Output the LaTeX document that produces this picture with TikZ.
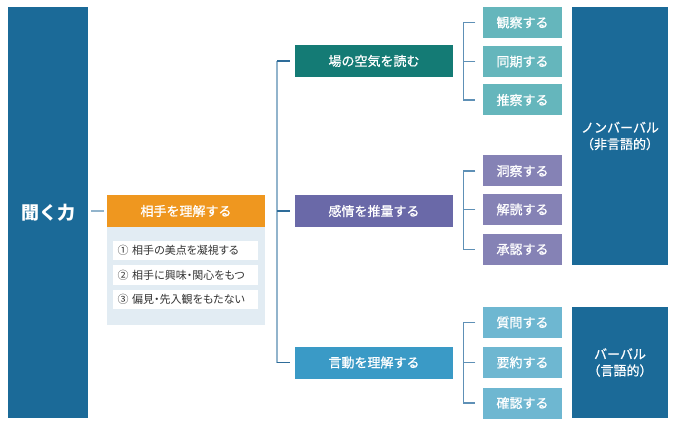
\documentclass[tikz,border=0pt]{standalone}
\usepackage{fontspec}
\setmainfont{Noto Sans CJK JP}
\newfontfamily\boxfont[FakeBold=0.8]{Noto Sans CJK JP}
\newfontfamily\itemfont[RawFeature=+palt]{Noto Sans CJK JP}
\usepackage{tikz}
\definecolor{kikublue}{HTML}{1B6A98}
\definecolor{aiteorange}{HTML}{EF971F}
\definecolor{panelgray}{HTML}{E2ECF3}
\definecolor{kuukiteal}{HTML}{147B75}
\definecolor{kanjoupurple}{HTML}{6A69A8}
\definecolor{gendoublue}{HTML}{3A9AC6}
\definecolor{leafteal}{HTML}{65B6BC}
\definecolor{leafpurple}{HTML}{8582B5}
\definecolor{leafblue}{HTML}{6EB7D1}
\definecolor{spinelight}{HTML}{92B4CC}
\definecolor{tickdark}{HTML}{2E6C99}
\definecolor{spineright}{HTML}{5E90B6}
\tikzset{
	labelfont/.style={font=\boxfont\fontsize{13}{16.5}\selectfont},
	kikubox/.style={fill=kikublue, text=white, inner sep=0pt, minimum width=80pt, minimum height=411pt, font=\bfseries\fontsize{18}{20}\selectfont},
	headbox/.style={text=white, inner sep=0pt, minimum width=158pt, minimum height=32pt, labelfont},
	leafbox/.style={text=white, inner sep=0pt, minimum width=79pt, minimum height=31pt, labelfont},
	bigbox/.style={fill=kikublue, text=white, inner sep=0pt, minimum width=96pt, align=center, labelfont},
	itembox/.style={fill=white, text=black!80, inner xsep=4.5pt, inner ysep=0pt, text width=136pt, minimum height=19.5pt, align=left, font=\itemfont\fontsize{11}{13}\selectfont},
	spine/.style={line width=1.5pt, spinelight},
	tick/.style={line width=1.5pt, tickdark},
	rbrack/.style={line width=1.5pt, spineright},
}

\begin{document}
\begin{tikzpicture}[x=1pt, y=-1pt]
		%%%%% START %%%%%
		\useasboundingbox (0,0) rectangle (677,430);
		
		\node[kikubox] (kiku) at (48,212.5) {聞く力};
		
		\node[fill=panelgray, minimum width=158pt, minimum height=98pt, inner sep=0pt] (aitepanel) at (186,276) {};
		\node[headbox, fill=aiteorange] (aite) at (186,211) {相手を理解する};
		\node[itembox] (item1) at (185.5,250.5) {\mbox{① 相手の美点を凝視する}};
		\node[itembox] (item2) at (185.5,275) {\mbox{② 相手に興味・関心をもつ}};
		\node[itembox] (item3) at (185.5,299.5) {\mbox{③ 偏見・先入観をもたない}};
		
		\node[headbox, fill=kuukiteal] (kuuki) at (374,61) {場の空気を読む};
		\node[headbox, fill=kanjoupurple] (kanjou) at (374,211) {感情を推量する};
		\node[headbox, fill=gendoublue] (gendou) at (374,362.5) {言動を理解する};
		
		\node[leafbox, fill=leafteal] (kansatsu) at (522.5,22.5) {観察する};
		\node[leafbox, fill=leafteal] (douki) at (522.5,61.5) {同期する};
		\node[leafbox, fill=leafteal] (suisatsu) at (522.5,100) {推察する};
		
		\node[leafbox, fill=leafpurple] (dousatsu) at (522.5,171) {洞察する};
		\node[leafbox, fill=leafpurple] (kaidoku) at (522.5,209.5) {解読する};
		\node[leafbox, fill=leafpurple] (shounin) at (522.5,249.5) {承認する};
		
		\node[leafbox, fill=leafblue] (shitsumon) at (522.5,322.5) {質問する};
		\node[leafbox, fill=leafblue] (youyaku) at (522.5,362.5) {要約する};
		\node[leafbox, fill=leafblue] (kakunin) at (522.5,403) {確認する};
		
		\node[bigbox, minimum height=258pt] (nonverbal) at (620,136) {ノンバーバル\\（非言語的）};
		\node[bigbox, minimum height=111pt] (verbal) at (620,362.5) {バーバル\\（言語的）};
		
		% connectors
		\coordinate (spineL) at (277,211);
		\coordinate (spineR) at (463.5,211);
		
		\draw[spine] ([xshift=3pt]kiku.east |- aite.west) -- ([xshift=-3pt]aite.west);
		
		\draw[spine] (kuuki.west -| spineL) -- (gendou.west -| spineL);
		\draw[tick] ([xshift=-5pt]kuuki.west) -- (kuuki.west -| spineL);
		\draw[tick] ([xshift=-5pt]kanjou.west) -- (kanjou.west -| spineL);
		\draw[tick] ([xshift=-5pt]gendou.west) -- (gendou.west -| spineL);
		
		\draw[rbrack] ([xshift=-7.5pt]kansatsu.west) -| (spineR |- suisatsu.west) -- ([xshift=-7.5pt]suisatsu.west);
		\draw[rbrack] ([xshift=-7.5pt]douki.west) -- (douki.west -| spineR);
		
		\draw[rbrack] ([xshift=-7.5pt]dousatsu.west) -| (spineR |- shounin.west) -- ([xshift=-7.5pt]shounin.west);
		\draw[rbrack] ([xshift=-7.5pt]kaidoku.west) -- (kaidoku.west -| spineR);
		
		\draw[rbrack] ([xshift=-7.5pt]shitsumon.west) -| (spineR |- kakunin.west) -- ([xshift=-7.5pt]kakunin.west);
		\draw[rbrack] ([xshift=-7.5pt]youyaku.west) -- (youyaku.west -| spineR);
		%%%%% END %%%%%
	\end{tikzpicture}
\end{document}
